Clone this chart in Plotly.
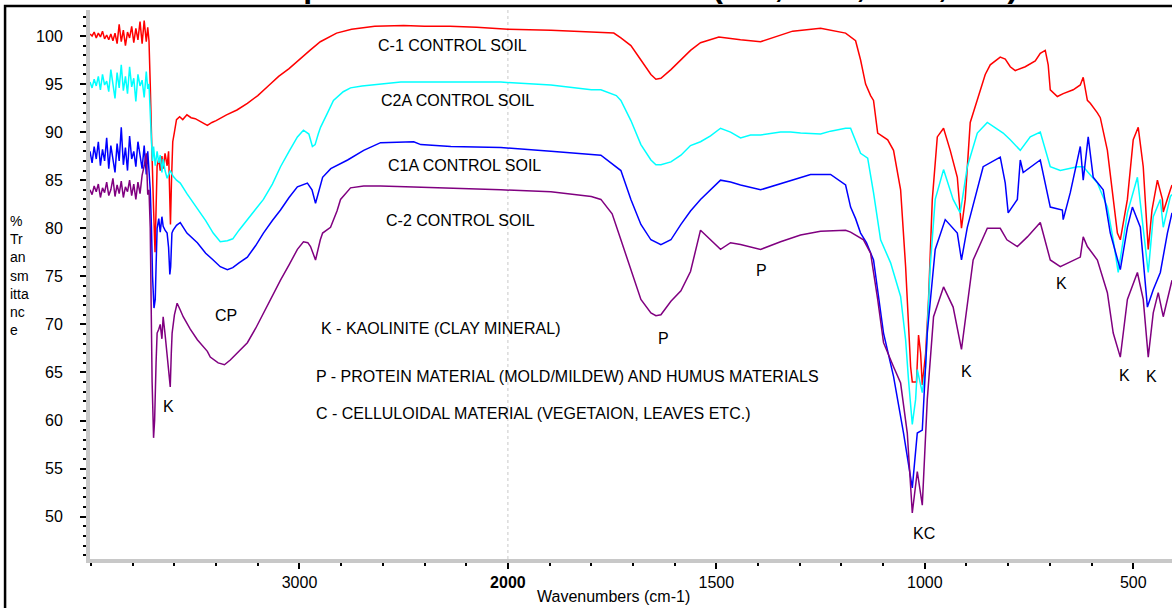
import plotly.graph_objects as go

# ---------------- data (wavenumber cm-1, %T) ----------------
NOISY_WN = [4005, 3995, 3985, 3975, 3965, 3955, 3945, 3935, 3925, 3915, 3905, 3895, 3885, 3875, 3865,
            3855, 3845, 3835, 3825, 3815, 3805, 3795, 3785, 3775, 3765, 3755, 3745, 3735, 3728, 3722]

c1_wn = NOISY_WN + [
    3716, 3712, 3708, 3700, 3693, 3688, 3683, 3675, 3668, 3660, 3654, 3645, 3635, 3628, 3622, 3619, 3614, 3608,
    3600, 3590, 3575, 3560, 3540, 3520, 3500, 3470, 3442, 3420, 3400, 3350, 3300, 3250, 3200, 3150, 3100, 3050,
    3000, 2950, 2900, 2850, 2822, 2750, 2639, 2500, 2400, 2278, 2150, 2000,
    1897, 1800, 1746, 1729, 1705, 1681, 1657, 1645, 1633, 1609, 1585, 1562, 1538, 1494, 1442, 1394, 1317, 1250,
    1190, 1166, 1154, 1142, 1130, 1123, 1113, 1089, 1075, 1058, 1046, 1039, 1034, 1030, 1020, 1015, 1010, 1006,
    998, 991, 982, 970, 955, 939, 922, 912, 903, 891, 874, 855, 843, 819, 807, 795, 783, 771, 759, 735, 723, 711,
    704, 699, 682, 668, 644, 627, 620, 610, 603, 586, 579, 562, 548, 538, 531, 514, 500, 488, 476, 464, 455, 442,
    430, 428, 411, 407]
c1_t = [100.2, 100.0, 100.4, 99.8, 100.3, 99.9, 100.5, 99.7, 100.1, 99.6, 100.2, 99.5, 100.3, 99.2, 101.2,
        99.4, 100.6, 99.0, 100.4, 99.8, 101.0, 99.3, 100.8, 99.6, 101.5, 99.2, 101.6, 99.4, 100.9, 99.5,
        95.0, 90.5, 88.0, 82.0, 77.5, 82.0, 86.5, 87.2, 86.0, 87.5, 86.2, 87.8, 86.5, 88.0, 84.0, 80.4, 85.0, 89.0,
        90.0, 91.3, 91.6, 91.3, 91.8, 91.5, 91.4, 91.0, 90.7, 91.0, 91.2, 91.8, 92.3, 93.0, 93.8, 94.8, 95.8, 96.6,
        97.6, 98.5, 99.4, 100.0, 100.3, 100.7, 101.0, 101.1, 101.0, 101.0, 100.9, 100.7,
        100.6, 100.4, 100.3, 99.8, 99.0, 97.5, 96.0, 95.5, 95.6, 96.5, 97.5, 98.5, 99.3, 99.9, 99.6, 99.4, 100.5, 100.8,
        100.3, 99.5, 97.5, 95.0, 93.8, 93.3, 89.9, 89.2, 88.1, 84.0, 76.0, 69.1, 65.6, 64.0, 64.0, 68.9, 67.0, 63.7,
        67.0, 72.6, 83.0, 89.5, 90.4, 88.1, 85.3, 80.0, 83.0, 91.0, 93.3, 96.0, 97.0, 97.8, 97.6, 96.8, 96.4, 96.6, 96.8, 97.4, 98.2, 98.5,
        97.0, 94.4, 93.7, 94.0, 94.4, 94.9, 95.7, 93.3, 93.0, 92.0, 91.5, 88.1, 83.0, 79.5, 78.8, 83.0, 89.2, 90.5, 86.4, 77.8, 81.9, 85.0,
        83.0, 81.7, 84.0, 84.5]

c2a_wn = NOISY_WN + [
    3716, 3710, 3705, 3700, 3692, 3683, 3675, 3668, 3660, 3654, 3645, 3635, 3620, 3606, 3590, 3572, 3540, 3490,
    3450, 3414, 3380, 3346, 3320, 3290, 3250, 3210, 3173, 3130, 3091, 3050, 3010, 2981, 2955, 2938, 2925, 2910,
    2899, 2870, 2837, 2790, 2755, 2700, 2611, 2514, 2418, 2274, 2034,
    1897, 1800, 1777, 1740, 1729, 1705, 1681, 1657, 1645, 1633, 1609, 1585, 1562, 1538, 1514, 1490, 1466, 1442,
    1418, 1394, 1346, 1322, 1298, 1250, 1226, 1190, 1178, 1154, 1137, 1123, 1106, 1082, 1058, 1046, 1039, 1030,
    1022, 1018, 1006, 998, 987, 975, 955, 932, 915, 898, 874, 850, 812, 795, 771, 747, 723, 699, 675, 634, 620,
    586, 562, 548, 536, 514, 490, 476, 464, 452, 435, 428, 411, 407]
c2a_t = [95.2, 94.6, 95.5, 94.8, 95.8, 94.4, 96.0, 94.9, 95.3, 94.2, 96.5, 95.0, 93.5, 96.2, 94.6,
         97.0, 94.3, 95.8, 94.0, 96.8, 94.7, 95.6, 93.2, 96.0, 94.8, 95.4, 93.6, 96.3, 94.5, 95.0,
         91.0, 89.0, 87.0, 88.5, 86.5, 88.0, 86.8, 87.6, 85.8, 87.2, 86.0, 85.2, 86.0, 85.4, 85.0, 84.7, 83.6, 82.0,
         80.8, 79.5, 78.6, 78.7, 78.9, 79.8, 80.9, 81.9, 83.0, 84.6, 86.4, 88.0, 89.5, 90.2, 89.8, 88.5, 88.7, 89.8,
         90.5, 91.8, 93.3, 94.2, 94.6, 94.8, 95.0, 95.2, 95.2, 95.2, 95.2,
         94.9, 94.4, 94.4, 93.8, 93.3, 91.2, 88.7, 87.1, 86.6, 86.6, 86.9, 87.6, 88.6, 89.0, 89.6, 90.4, 90.0, 89.4,
         89.7, 89.7, 90.0, 90.0, 89.9, 89.8, 90.1, 90.4, 90.4, 87.8, 87.3, 83.7, 78.8, 76.4, 72.9, 68.4, 64.2, 59.6,
         62.2, 65.3, 62.9, 65.6, 76.0, 83.0, 86.1, 83.0, 81.6, 86.4, 89.9, 91.0, 89.9, 89.2, 88.1, 89.5, 90.0, 86.4, 86.0, 86.4, 86.4,
         84.7, 82.2, 78.8, 75.4, 81.6, 85.3, 80.1, 75.4, 81.2, 83.0, 80.1, 83.3, 83.5]

c1a_wn = NOISY_WN + [
    3716, 3710, 3705, 3698, 3692, 3688, 3683, 3675, 3668, 3660, 3654, 3645, 3635, 3628, 3622, 3618, 3612, 3606,
    3590, 3572, 3540, 3490, 3450, 3414, 3380, 3346, 3320, 3290, 3250, 3210, 3173, 3130, 3091, 3050, 3010, 2962,
    2940, 2923, 2905, 2889, 2850, 2769, 2692, 2611, 2452, 2418, 2274, 2034,
    1897, 1777, 1729, 1705, 1681, 1657, 1633, 1609, 1585, 1562, 1538, 1490, 1466, 1442, 1394, 1322, 1274, 1226,
    1190, 1178, 1166, 1154, 1140, 1123, 1099, 1075, 1051, 1030, 1018, 1006, 994, 975, 951, 922, 912, 898, 860,
    819, 807, 800, 778, 771, 764, 723, 699, 670, 668, 651, 627, 620, 608, 596, 572, 555, 538, 531, 514, 502, 483,
    466, 452, 435, 418, 407]
c1a_t = [88.0, 86.8, 88.5, 87.2, 89.0, 86.5, 88.2, 87.0, 89.4, 86.2, 88.6, 87.4, 85.8, 88.8, 87.0,
         90.5, 86.6, 88.4, 86.0, 89.6, 87.2, 88.0, 86.4, 89.0, 87.8, 86.2, 88.6, 85.6, 88.0, 86.0,
         84.0, 80.0, 75.0, 71.7, 72.6, 76.0, 80.0, 81.0, 79.6, 81.2, 80.2, 79.8, 79.5, 78.0, 75.2, 76.0, 79.5, 79.8,
         80.3, 80.6, 79.5, 78.5, 77.4, 76.7, 76.0, 75.7, 75.9, 76.4, 77.0, 78.2, 79.5, 80.8, 81.9, 83.2, 84.3, 84.7,
         84.0, 82.6, 84.2, 85.3, 86.2, 87.1, 88.1, 88.9, 89.0, 88.7, 88.5, 88.4,
         88.0, 87.6, 86.0, 83.0, 80.4, 78.8, 78.3, 78.8, 80.4, 81.8, 83.0, 85.0, 84.8, 84.5, 84.0, 85.0, 85.6, 85.6,
         84.5, 82.2, 81.0, 79.5, 78.5, 76.7, 69.1, 64.6, 58.7, 53.0, 58.7, 59.0, 69.1, 77.8, 80.9, 79.5, 76.7, 80.1, 86.4,
         87.4, 84.7, 81.6, 83.0, 87.1, 85.8, 87.1, 82.2, 81.9, 80.9, 83.7, 88.5, 85.0, 89.5, 85.3, 84.0, 79.5, 76.7, 75.7, 80.1, 82.2, 80.1,
         71.8, 73.6, 75.4, 79.5, 81.6]

c2_wn = NOISY_WN + [
    3716, 3712, 3707, 3700, 3695, 3688, 3683, 3675, 3668, 3660, 3654, 3645, 3635, 3625, 3620, 3615, 3611, 3600,
    3587, 3572, 3558, 3524, 3490, 3442, 3428, 3390, 3360, 3332, 3290, 3250, 3210, 3173, 3130, 3091, 3050, 3010,
    2981, 2960, 2947, 2923, 2900, 2889, 2851, 2820, 2803, 2755, 2692, 2611, 2452, 2274, 2034,
    1897, 1800, 1777, 1750, 1729, 1705, 1681, 1657, 1645, 1633, 1620, 1609, 1585, 1562, 1538, 1526, 1490, 1466,
    1442, 1394, 1346, 1298, 1250, 1190, 1178, 1147, 1130, 1113, 1099, 1075, 1058, 1042, 1030, 1018, 1006, 994,
    979, 955, 932, 912, 898, 884, 850, 819, 803, 778, 754, 723, 699, 675, 627, 620, 610, 586, 562, 548, 531, 514,
    490, 476, 464, 452, 440, 428, 407]
c2_t = [84.0, 83.5, 84.4, 83.8, 84.6, 83.2, 84.2, 83.7, 84.8, 83.4, 84.0, 85.2, 83.3, 84.5, 83.6,
        84.9, 83.2, 84.3, 83.8, 85.0, 83.4, 84.6, 83.0, 84.8, 83.6, 85.5, 86.5, 87.8, 83.5, 84.0,
        80.0, 72.0, 64.0, 58.2, 60.0, 66.0, 69.1, 69.5, 70.0, 68.5, 70.8, 69.0, 66.6, 64.0, 63.5, 67.0, 69.1, 71.0,
        72.2, 71.5, 70.8, 69.5, 68.4, 67.2, 66.6, 66.0, 65.8, 66.3, 67.2, 68.1, 69.6, 71.2, 72.9, 74.6, 76.2, 77.8,
        78.6, 78.5, 78.1, 76.7, 78.8, 79.5, 80.1, 81.8, 83.0, 84.2, 84.4, 84.4, 84.3, 84.2, 84.0,
        83.8, 83.3, 83.0, 81.5, 78.8, 75.7, 72.6, 71.2, 70.9, 71.0, 71.8, 72.4, 73.5, 75.5, 79.8, 79.3, 77.8, 78.5,
        78.3, 77.8, 78.6, 79.3, 79.7, 79.8, 79.6, 78.8, 77.4, 72.6, 68.1, 65.6, 63.9, 58.7, 50.4, 54.7, 51.2, 62.2,
        70.8, 73.9, 71.8, 67.4, 71.8, 76.7, 80.0, 80.0, 78.8, 78.1, 79.1, 80.6, 76.7, 76.0, 77.0, 79.1, 78.1, 76.7, 73.3, 69.1, 66.6, 72.6,
        75.4, 72.6, 66.6, 71.2, 73.3, 70.8, 74.6]

SERIES = [("C-1", c1_wn, c1_t, "#ff0000"),
          ("C2A", c2a_wn, c2a_t, "#00ffff"),
          ("C1A", c1a_wn, c1a_t, "#0000ff"),
          ("C-2", c2_wn, c2_t, "#800080")]

MAJOR_TICKS = [3000, 2000, 1500, 1000, 500]
MAJOR_TEXT = ["3000", "<b>2000</b>", "1500", "1000", "500"]
Y_TICKS = [50, 55, 60, 65, 70, 75, 80, 85, 90, 95, 100]

# labels: (text, wavenumber, %T, anchor)
LABELS = [("C-1 CONTROL SOIL", 2268, 98.96, "center"),
          ("C2A CONTROL SOIL", 2244, 93.24, "center"),
          ("C1A CONTROL SOIL", 2210, 86.49, "center"),
          ("C-2 CONTROL SOIL", 2226, 80.77, "center"),
          ("P", 1391, 75.57, "center"),
          ("K", 671, 74.3, "center"),
          ("CP", 3352, 70.9, "center"),
          ("K - KAOLINITE (CLAY MINERAL)", 2906, 69.6, "left"),
          ("P", 1626, 68.5, "center"),
          ("P - PROTEIN MATERIAL (MOLD/MILDEW) AND HUMUS MATERIALS", 2930, 64.55, "left"),
          ("K", 901, 65.07, "center"),
          ("K", 522, 64.66, "center"),
          ("K", 455, 64.55, "center"),
          ("K", 3630, 61.43, "center"),
          ("C - CELLULOIDAL MATERIAL (VEGETAION, LEAVES ETC.)", 2930, 60.7, "left"),
          ("KC", 1002, 48.3, "center")]


def ax(wn):
    """Instrument axis: above 2000 cm-1 the scale is compressed by a factor of 2."""
    return wn if wn <= 2000 else 2000 + (wn - 2000) / 2.0


FONT = "Arial, Liberation Sans, sans-serif"

fig = go.Figure()
for name, wn, t, col in SERIES:
    assert len(wn) == len(t), name
    fig.add_trace(go.Scatter(x=[ax(w) for w in wn], y=t, mode="lines", name=name,
                             line=dict(color=col, width=1.5), showlegend=False))

for text, wn, t, anc in LABELS:
    fig.add_annotation(x=ax(wn), y=t, xref="x", yref="y", text=text, showarrow=False,
                       xanchor=anc, yanchor="middle", font=dict(family=FONT, size=16, color="black"))

# vertical dotted line at the scale change
fig.add_shape(type="line", xref="x", yref="paper", x0=ax(2000), x1=ax(2000), y0=0, y1=1,
              line=dict(color="#c8c8c8", width=1, dash="dot"), layer="below")

# outer frame (only top and left edges visible)
fig.add_shape(type="rect", xref="paper", yref="paper", x0=-0.0785, x1=1.1, y0=-0.3, y1=1.0075,
              line=dict(color="black", width=2.5), layer="above")

# cut-off title at the very top
fig.add_annotation(xref="paper", yref="paper", x=(200 - 90) / 1082, y=(559 - 6) / 549,
                   xanchor="left", yanchor="bottom", showarrow=False,
                   text="<b>FTIR Spectra of the Control Soils (C-1, C2A, C1A, C-2)</b>",
                   font=dict(family=FONT, size=32, color="black"))

# axis titles
fig.add_annotation(xref="paper", yref="paper", x=(613 - 90) / 1082, y=(559 - 596) / 549,
                   xanchor="center", yanchor="middle", showarrow=False,
                   text="Wavenumbers (cm-1)", font=dict(family=FONT, size=16, color="black"))
fig.add_annotation(xref="paper", yref="paper", x=(8 - 90) / 1082, y=(559 - 275) / 549,
                   xanchor="left", yanchor="middle", align="left", showarrow=False,
                   text="%<br>Tr<br>an<br>sm<br>itta<br>nc<br>e", font=dict(family=FONT, size=14, color="black"))

minor_x = [v for v in range(500, 3001, 100) if v not in [ax(m) for m in MAJOR_TICKS]]

fig.update_layout(
    width=1172, height=608,
    margin=dict(l=90, r=0, t=10, b=49),
    paper_bgcolor="white", plot_bgcolor="white",
    font=dict(family=FONT, size=16, color="black"),
    xaxis=dict(range=[ax(4005), ax(407)], showgrid=False, zeroline=False,
               tickmode="array", tickvals=[ax(m) for m in MAJOR_TICKS], ticktext=MAJOR_TEXT,
               showline=True, linecolor="#c8c8c8", linewidth=4,
               ticks="outside", ticklen=6, tickwidth=1.5, tickcolor="black",
               tickfont=dict(family=FONT, size=16, color="black"),
               minor=dict(tickmode="array", tickvals=minor_x, ticks="outside", ticklen=3,
                          tickwidth=1.5, tickcolor="black", showgrid=False)),
    yaxis=dict(range=[45.6, 102.7], showgrid=False, zeroline=False,
               tickmode="array", tickvals=Y_TICKS,
               showline=True, linecolor="#c8c8c8", linewidth=4,
               ticks="outside", ticklen=6, tickwidth=1.5, tickcolor="black",
               ticklabelstandoff=14,
               tickfont=dict(family=FONT, size=16, color="black"),
               minor=dict(dtick=1, tick0=0, ticks="outside", ticklen=3,
                          tickwidth=1.5, tickcolor="black", showgrid=False)),
)

fig.write_html("out.html")
